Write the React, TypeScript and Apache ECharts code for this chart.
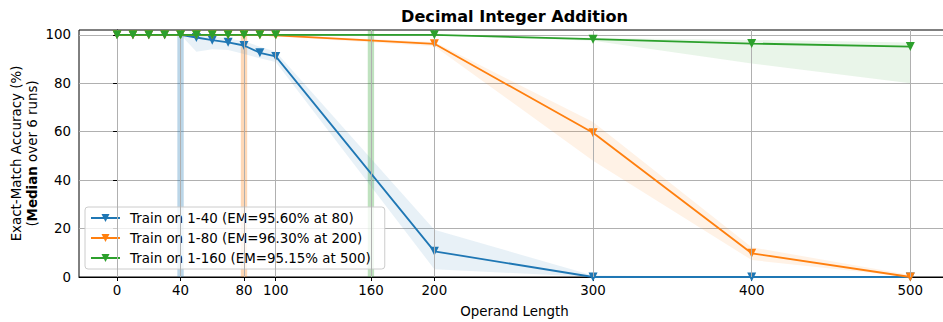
import React, { useEffect, useRef } from "react";
import * as echarts from "echarts";

const FONT = "DejaVu Sans";
const FS = 13.4;

const xs = [0, 10, 20, 30, 40, 50, 60, 70, 80, 90, 100, 200, 300, 400, 500];

const blueMed = [100, 100, 100, 100, 100, 98.9, 97.8, 96.9, 95.6, 92.6, 91.1, 10.6, 0, 0, 0];
const blueLo = [100, 100, 100, 100, 100, 93, 94, 93.7, 92.1, 90.3, 88.8, 3.2, 0, 0, 0];
const blueHi = [100, 100, 100, 100, 100, 100, 99.5, 98.5, 97.4, 95.1, 93, 19.5, 0.6, 0, 0];

const orangeMed = [100, 100, 100, 100, 100, 100, 100, 100, 100, 100, 99.8, 96.3, 59.6, 9.8, 0];
const orangeLo = [100, 100, 100, 100, 100, 100, 100, 100, 100, 100, 99.3, 95.3, 48, 7, 0];
const orangeHi = [100, 100, 100, 100, 100, 100, 100, 100, 100, 100, 100, 97, 64, 12.3, 0.8];

const greenMed = [100, 100, 100, 100, 100, 100, 100, 100, 100, 100, 100, 100, 98.2, 96.4, 95.15];
const greenLo = [100, 100, 100, 100, 100, 100, 100, 100, 100, 100, 100, 99.8, 97.6, 88.2, 80];
const greenHi = [100, 100, 100, 100, 100, 100, 100, 100, 100, 100, 100, 100, 98.7, 97.9, 96.8];

const seriesNames = [
  "Train on 1-40 (EM=95.60% at 80)",
  "Train on 1-80 (EM=96.30% at 200)",
  "Train on 1-160 (EM=95.15% at 500)",
];

const xTicks = [0, 40, 80, 100, 160, 200, 300, 400, 500];
const yTicks = [0, 20, 40, 60, 80, 100];

// training-length spans
const spans = [
  [38, 42],
  [78, 82],
  [158, 162],
];

const COLORS = ["#1f77b4", "#ff7f0e", "#2ca02c"];
const BAND_FILLS = ["rgba(31,119,180,0.1)", "rgba(255,127,14,0.1)", "rgba(44,160,44,0.1)"];
const SPAN_FILLS = ["rgba(31,119,180,0.3)", "rgba(255,127,14,0.3)", "rgba(44,160,44,0.3)"];

function bandSeries(lo: number[], hi: number[], fill: string) {
  return {
    type: "custom",
    z: 1,
    silent: true,
    clip: true,
    data: xs.map((x, i) => [x, lo[i], hi[i]]),
    encode: { x: 0, y: [1, 2] },
    renderItem: (params: any, api: any) => {
      if (params.dataIndex !== 0) return null;
      const pts: number[][] = [];
      for (let i = 0; i < xs.length; i++) pts.push(api.coord([xs[i], hi[i]]));
      for (let i = xs.length - 1; i >= 0; i--) pts.push(api.coord([xs[i], lo[i]]));
      return { type: "polygon", shape: { points: pts }, style: { fill } };
    },
  };
}

function lineSeries(name: string, vals: number[], color: string, z: number) {
  return {
    type: "line",
    name,
    z,
    data: xs.map((x, i) => [x, vals[i]]),
    symbol: "triangle",
    symbolRotate: 180,
    symbolSize: 9,
    showAllSymbol: true,
    clip: false,
    lineStyle: { color, width: 1.8 },
    itemStyle: { color },
  };
}

export default function App() {
  const ref = useRef<HTMLDivElement>(null);
  useEffect(() => {
    const chart = echarts.init(ref.current!, null, { renderer: "svg" });
    chart.setOption({
      animation: false,
      backgroundColor: "#fff",
      textStyle: { fontFamily: FONT },
      grid: {
        left: 79,
        width: 871,
        top: 30,
        height: 247,
        containLabel: false,
        outerBoundsMode: "none",
        show: true,
        borderColor: "#000",
        borderWidth: 1,
        backgroundColor: "transparent",
      },
      xAxis: {
        type: "value",
        min: -24,
        max: 525,
        axisLine: { show: true, onZero: false, lineStyle: { color: "#000", width: 1 } },
        axisTick: { show: true, length: 4, customValues: xTicks, lineStyle: { color: "#000" } },
        axisLabel: {
          customValues: xTicks,
          color: "#000",
          fontSize: FS,
          fontFamily: FONT,
          margin: 7,
        },
        splitLine: { show: false },
      },
      yAxis: {
        type: "value",
        min: 0,
        max: 102,
        interval: 20,
        axisLine: { show: true, lineStyle: { color: "#000", width: 1 } },
        axisTick: { show: true, length: 4, customValues: yTicks, lineStyle: { color: "#000" } },
        axisLabel: {
          customValues: yTicks,
          color: "#000",
          fontSize: FS,
          fontFamily: FONT,
          margin: 8,
        },
        splitLine: { show: true, lineStyle: { color: "#b0b0b0", width: 1 } },
      },
      legend: {
        data: seriesNames,
        orient: "vertical",
        left: 85,
        top: 207,
        itemWidth: 29,
        itemHeight: 10,
        itemGap: 4,
        padding: [3, 14, 3, 5],
        backgroundColor: "rgba(255,255,255,0.8)",
        borderColor: "#cccccc",
        borderWidth: 1,
        borderRadius: 3,
        textStyle: { fontSize: FS, fontFamily: FONT, color: "#000", lineHeight: 16, padding: [0, 0, 0, 5] },
      },
      graphic: [
        {
          type: "text",
          x: 514.5,
          y: 16,
          style: {
            text: "Decimal Integer Addition",
            fontSize: 16.1,
            fontWeight: "bold",
            fontFamily: FONT,
            fill: "#000",
            align: "center",
            verticalAlign: "middle",
          },
        },
        {
          type: "text",
          x: 514.5,
          y: 311,
          style: {
            text: "Operand Length",
            fontSize: FS,
            fontFamily: FONT,
            fill: "#000",
            align: "center",
            verticalAlign: "middle",
          },
        },
        {
          type: "text",
          x: 24,
          y: 153.5,
          rotation: Math.PI / 2,
          style: {
            text: "{a|Exact-Match Accuracy (%)}\n{a|(}{b|Median}{a| over 6 runs)}",
            align: "center",
            verticalAlign: "middle",
            rich: {
              a: { fontSize: FS, fontFamily: FONT, fill: "#000", lineHeight: 16 },
              b: { fontSize: FS, fontFamily: FONT, fill: "#000", fontWeight: "bold", lineHeight: 16 },
            },
          },
        },
      ],
      series: [
        bandSeries(blueLo, blueHi, BAND_FILLS[0]),
        bandSeries(orangeLo, orangeHi, BAND_FILLS[1]),
        bandSeries(greenLo, greenHi, BAND_FILLS[2]),
        {
          type: "line",
          z: 1,
          silent: true,
          data: [],
          markArea: {
            silent: true,
            label: { show: false },
            data: spans.map((s, i) => [
              { xAxis: s[0], itemStyle: { color: SPAN_FILLS[i] } },
              { xAxis: s[1] },
            ]),
          },
        },
        {
          type: "line",
          z: 2,
          silent: true,
          data: [],
          markLine: {
            silent: true,
            symbol: ["none", "none"],
            label: { show: false },
            lineStyle: { color: "#b0b0b0", width: 1, type: "solid" },
            data: xTicks.map((t) => ({ xAxis: t })),
          },
        },
        lineSeries(seriesNames[0], blueMed, COLORS[0], 3),
        lineSeries(seriesNames[1], orangeMed, COLORS[1], 4),
        lineSeries(seriesNames[2], greenMed, COLORS[2], 5),
      ],
    });
    return () => chart.dispose();
  }, []);
  return (
    <div
      ref={ref}
      style={{ position: "absolute", left: 0, top: 0, width: 943, height: 322 }}
    />
  );
}
